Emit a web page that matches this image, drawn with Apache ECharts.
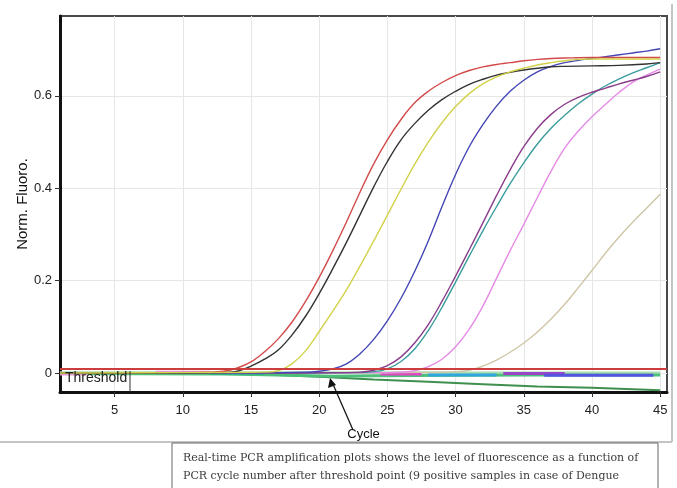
<!DOCTYPE html>
<html>
<head>
<meta charset="utf-8">
<script src="https://cdn.jsdelivr.net/npm/echarts@6/dist/echarts.min.js"></script>
<style>
  html, body { margin: 0; padding: 0; background: #fff; }
  #chart { width: 677px; height: 488px; }
</style>
</head>
<body>
<div id="chart"></div>
<script>
// tick labels
const xTicks = [5, 10, 15, 20, 25, 30, 35, 40, 45];
const yTicks = [0, 0.2, 0.4, 0.6];
const threshold = 0.015;

// positive samples: [cycle, norm. fluoro]
const red = [[1,0.001],[8,0.001],[12,0.002],[13,0.004],[14,0.011],[15,0.024],[16,0.046],[17,0.074],[18,0.11],[19,0.155],[20,0.207],[21,0.265],[22,0.327],[23,0.392],[24,0.453],[25,0.505],[26,0.549],[27,0.585],[28,0.61],[29,0.629],[30,0.644],[31,0.655],[32,0.663],[33,0.668],[34,0.672],[35,0.676],[36,0.679],[37,0.681],[38,0.682],[40,0.683],[45,0.683]];
const black = [[1,0.0],[8,0.0],[13,0.001],[14,0.004],[15,0.015],[16,0.03],[17,0.05],[18,0.082],[19,0.123],[20,0.172],[21,0.226],[22,0.283],[23,0.343],[24,0.403],[25,0.458],[26,0.505],[27,0.54],[28,0.569],[29,0.592],[30,0.61],[31,0.625],[32,0.636],[33,0.645],[34,0.651],[35,0.656],[36,0.66],[37,0.663],[38,0.664],[40,0.665],[42,0.666],[44,0.669],[45,0.672]];
const yellow = [[1,0.0],[10,0.001],[16,0.002],[17,0.005],[18,0.02],[19,0.048],[20,0.09],[21,0.134],[22,0.18],[23,0.232],[24,0.286],[25,0.342],[26,0.398],[27,0.452],[28,0.5],[29,0.542],[30,0.577],[31,0.605],[32,0.626],[33,0.641],[34,0.652],[35,0.66],[36,0.667],[37,0.672],[38,0.676],[39,0.679],[40,0.68],[45,0.68]];
const blue = [[1,0.0],[12,0.0],[19,0.002],[20,0.004],[21,0.009],[22,0.02],[23,0.042],[24,0.073],[25,0.113],[26,0.162],[27,0.22],[28,0.286],[29,0.36],[30,0.43],[31,0.49],[32,0.538],[33,0.578],[34,0.61],[35,0.634],[36,0.652],[37,0.664],[38,0.672],[39,0.677],[40,0.681],[41,0.685],[42,0.689],[43,0.693],[44,0.697],[45,0.702]];
const purple = [[1,0.0],[15,0.0],[22,0.001],[23,0.002],[24,0.006],[25,0.016],[26,0.035],[27,0.065],[28,0.105],[29,0.155],[30,0.21],[31,0.267],[32,0.325],[33,0.384],[34,0.44],[35,0.49],[36,0.53],[37,0.56],[38,0.582],[39,0.597],[40,0.608],[41,0.617],[42,0.626],[43,0.634],[44,0.642],[45,0.652]];
const teal = [[1,0.0],[15,0.0],[23,0.001],[24,0.003],[25,0.009],[26,0.025],[27,0.052],[28,0.092],[29,0.142],[30,0.197],[31,0.253],[32,0.308],[33,0.36],[34,0.41],[35,0.455],[36,0.496],[37,0.53],[38,0.558],[39,0.583],[40,0.604],[41,0.622],[42,0.637],[43,0.65],[44,0.661],[45,0.672]];
const pink = [[1,0.0],[15,0.0],[25,0.001],[26,0.002],[27,0.005],[28,0.014],[29,0.03],[30,0.057],[31,0.095],[32,0.145],[33,0.205],[34,0.265],[35,0.322],[36,0.38],[37,0.437],[38,0.487],[39,0.524],[40,0.555],[41,0.582],[42,0.608],[43,0.63],[44,0.645],[45,0.658]];
const beige = [[1,0.0],[20,0.0],[29,0.002],[30,0.003],[31,0.006],[32,0.015],[33,0.028],[34,0.045],[35,0.065],[36,0.089],[37,0.117],[38,0.149],[39,0.185],[40,0.222],[41,0.26],[42,0.295],[43,0.327],[44,0.357],[45,0.387]];

// negative samples (baseline traces under the threshold)
const negDarkGreen = [[1,0.0],[12,-0.001],[16,-0.003],[20,-0.008],[24,-0.014],[28,-0.019],[32,-0.024],[36,-0.029],[40,-0.032],[45,-0.037]];
const negGreen = [[1,-0.001],[13,-0.002],[17,-0.004],[21,-0.007],[24,-0.006],[30,-0.005],[36,-0.004],[45,-0.004]];
const negLightGreen = [[1,0.002],[45,0.001]];
const negPink = [[1,-0.002],[3,-0.002],[3.2,'-'],[8,0.002],[12,0.002]];
const negTeal = [[12,-0.001],[16,-0.001]];
const negMagenta = [[24.5,-0.002],[27.5,-0.002]];
const negCyan = [[28,-0.004],[33,-0.004]];
const negViolet = [[33.5,-0.001],[38,-0.001]];
const negBlue = [[36.5,-0.005],[44.5,-0.005]];

const positives = [
  { name: 'S8', data: beige, color: '#cfc6a6' },
  { name: 'S7', data: pink, color: '#e58be5' },
  { name: 'S6', data: teal, color: '#3a9c9c' },
  { name: 'S5', data: purple, color: '#8a3d8a' },
  { name: 'S4', data: blue, color: '#4545b5' },
  { name: 'S1', data: red, color: '#d24a4a' },
  { name: 'S2', data: black, color: '#333333' },
  { name: 'S3', data: yellow, color: '#d2d24a' }
];
const negatives = [
  { name: 'N1', data: negLightGreen, color: '#a8ddb0', width: 2 },
  { name: 'N2', data: negDarkGreen, color: '#3f8f4f', width: 2 },
  { name: 'N3', data: negGreen, color: '#4cbf78', width: 3 },
  { name: 'N4', data: negPink, color: '#e59ad2', width: 3 },
  { name: 'N5', data: negTeal, color: '#2fb38a', width: 3 },
  { name: 'N6', data: negMagenta, color: '#e046c4', width: 3 },
  { name: 'N7', data: negCyan, color: '#2fa6dc', width: 3 },
  { name: 'N8', data: negViolet, color: '#9b46c8', width: 3 },
  { name: 'N9', data: negBlue, color: '#5454e0', width: 3 }
];

const font = "'Liberation Sans', Arial, sans-serif";
const chart = echarts.init(document.getElementById('chart'), null, { renderer: 'canvas' });

const series = [];
negatives.forEach(n => series.push({
  name: n.name, type: 'line', data: n.data, symbol: 'none', silent: true,
  lineStyle: { color: n.color, width: n.width }, z: 2
}));
positives.forEach(p => series.push({
  name: p.name, type: 'line', data: p.data, symbol: 'none', smooth: 0.4, silent: true,
  lineStyle: { color: p.color, width: 1.4 }, z: 3
}));
// threshold line
series.push({
  name: 'Threshold', type: 'line', data: [], silent: true,
  markLine: {
    silent: true, symbol: 'none', animation: false,
    label: { show: false },
    lineStyle: { color: '#cc3d3d', width: 2, type: 'solid' },
    data: [{ yAxis: threshold }]
  },
  z: 4
});

chart.setOption({
  backgroundColor: '#fff',
  animation: false,
  grid: { left: 60, right: 10, top: 16, bottom: 96, show: true, borderColor: '#4a4a4a', borderWidth: 2 },
  xAxis: {
    type: 'value', min: 1, max: 45.5,
    name: 'Cycle', nameLocation: 'middle', nameGap: 36, nameMoveOverlap: false,
    nameTextStyle: { color: '#111', fontSize: 13, fontFamily: font },
    axisLine: { show: true, onZero: false, lineStyle: { color: '#111', width: 3 } },
    axisTick: { show: true, length: 5, customValues: xTicks, lineStyle: { color: '#333' } },
    axisLabel: { customValues: xTicks, color: '#222', fontSize: 13, fontFamily: font, margin: 12 },
    splitLine: { show: true, lineStyle: { color: '#e6e6e6', width: 1 } }
  },
  yAxis: {
    type: 'value', min: -0.041, max: 0.773,
    name: 'Norm. Fluoro.', nameLocation: 'middle', nameGap: 30, nameRotate: 90, nameMoveOverlap: false,
    nameTextStyle: { color: '#111', fontSize: 15, fontFamily: font },
    axisLine: { show: true, onZero: false, lineStyle: { color: '#111', width: 3 } },
    axisTick: { show: true, length: 5, customValues: yTicks, lineStyle: { color: '#333' } },
    axisLabel: { customValues: yTicks, color: '#222', fontSize: 13, fontFamily: font, margin: 8,
      formatter: v => (v === 0 ? '0' : v.toFixed(1)) },
    splitLine: { show: true, lineStyle: { color: '#e6e6e6', width: 1 } }
  },
  series: series,
  graphic: [
    // outer screenshot frame
    { type: 'line', shape: { x1: 672, y1: 4, x2: 672, y2: 442 }, style: { stroke: '#c4c4c4', lineWidth: 2 }, z: 10 },
    { type: 'line', shape: { x1: 0, y1: 442, x2: 672, y2: 442 }, style: { stroke: '#c4c4c4', lineWidth: 2 }, z: 10 },
    // threshold label box
    { type: 'line', shape: { x1: 130, y1: 371, x2: 130, y2: 392 }, style: { stroke: '#333', lineWidth: 1 }, z: 10 },
    { type: 'text', left: 65, top: 371, style: { text: 'Threshold', fill: '#222', font: '14px ' + font }, z: 10 },
    // arrow pointing at the threshold crossing
    { type: 'line', shape: { x1: 353, y1: 430, x2: 332, y2: 382 }, style: { stroke: '#111', lineWidth: 1.2 }, z: 10 },
    { type: 'polygon', shape: { points: [[330, 378], [328, 388], [336, 385]] }, style: { fill: '#111' }, z: 10 },
    // caption box
    { type: 'rect', shape: { x: 172, y: 443, width: 486, height: 60 }, style: { fill: '#fff', stroke: '#666', lineWidth: 1 }, z: 11 },
    { type: 'text', left: 183, top: 453, style: { text: 'Real-time PCR amplification plots shows the level of fluorescence as a function of', fill: '#3a3a3a', font: '11px "DejaVu Serif", serif' }, z: 12 },
    { type: 'text', left: 183, top: 471, style: { text: 'PCR cycle number after threshold point (9 positive samples in case of Dengue', fill: '#3a3a3a', font: '11px "DejaVu Serif", serif' }, z: 12 }
  ]
});
</script>
</body>
</html>
